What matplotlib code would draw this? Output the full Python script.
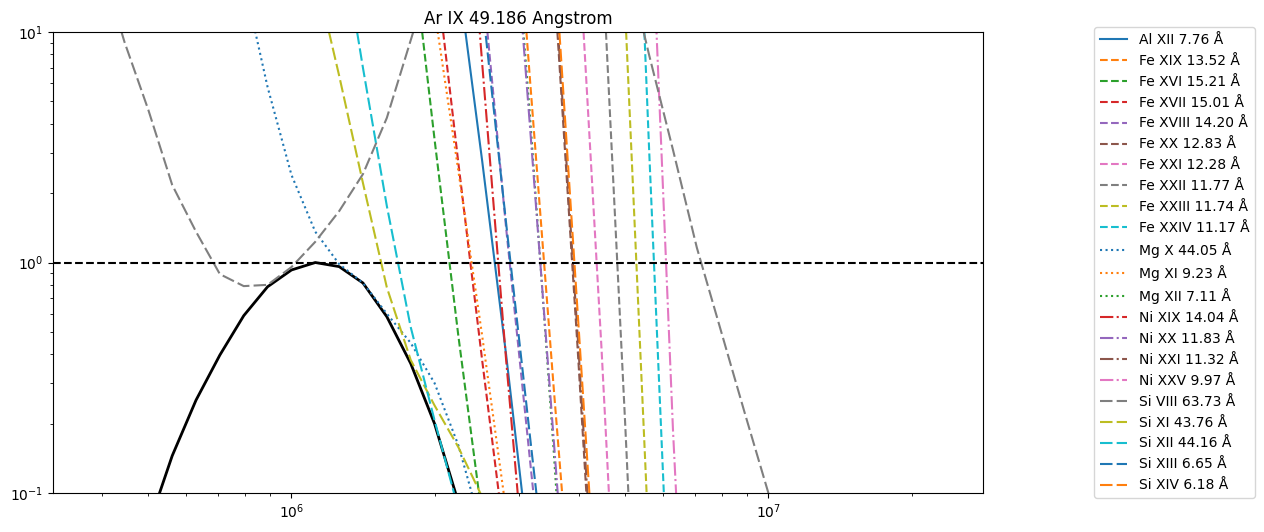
import numpy as np
import matplotlib.pyplot as plt

# --- values (log10 T, normalised ratio) ---
ar9_t = [5.65, 5.70, 5.75, 5.80, 5.85, 5.90, 5.95, 6.00, 6.05, 6.10, 6.15, 6.20, 6.25, 6.30, 6.35, 6.40]
ar9 = [0.03, 0.072, 0.145, 0.253, 0.397, 0.588, 0.785, 0.928, 1.0, 0.96, 0.815, 0.582, 0.365, 0.20, 0.091, 0.035]

al12_t = [6.35, 6.40, 6.45, 6.50]
al12 = [17.2, 2.75, 0.40, 0.051]

fe19_t = [6.45, 6.50, 6.55, 6.60]
fe19 = [151, 6.28, 0.284, 0.0145]
fe16_t = [6.25, 6.30, 6.35, 6.40]
fe16 = [27, 3.43, 0.48, 0.078]
fe17_t = [6.30, 6.35, 6.40, 6.45]
fe17 = [21, 2.7, 0.375, 0.056]
fe18_t = [6.40, 6.45, 6.50, 6.55]
fe18 = [17.2, 1.42, 0.14, 0.014]
fe20_t = [6.50, 6.55, 6.60, 6.65]
fe20 = [690, 17.6, 0.425, 0.0083]
fe21_t = [6.55, 6.60, 6.65, 6.70]
fe21 = [900, 28.5, 0.428, 0.0041]
fe22_t = [6.60, 6.65, 6.70, 6.75]
fe22 = [2800, 25, 0.195, 0.0011]
fe23_t = [6.65, 6.70, 6.75, 6.80]
fe23 = [2450, 12, 0.0564, 0.0005]
fe24_t = [6.70, 6.75, 6.80]
fe24 = [1120, 3.07, 0.0118]

mg10_t = [5.85, 5.90, 5.95, 6.00, 6.05, 6.10, 6.15, 6.20, 6.25, 6.30, 6.35, 6.40]
mg10 = [60, 16.8, 5.77, 2.4, 1.36, 0.985, 0.815, 0.60, 0.448, 0.30, 0.161, 0.069]
mg11_t = [6.25, 6.30, 6.35, 6.40, 6.45]
mg11 = [70, 12.4, 2.5, 0.479, 0.084]
mg12_t = [6.45, 6.50, 6.55, 6.60]
mg12 = [93, 4.36, 0.151, 0.0039]

ni19_t = [6.35, 6.40, 6.45, 6.50]
ni19 = [155, 7.28, 0.38, 0.0245]
ni20_t = [6.45, 6.50, 6.55, 6.60]
ni20 = [87, 3.92, 0.169, 0.0071]
ni21_t = [6.50, 6.55, 6.60, 6.65]
ni21 = [700, 19.4, 0.485, 0.0103]
ni25_t = [6.70, 6.75, 6.80, 6.85]
ni25 = [2000, 59, 0.187, 0.0015]

si8_t = [5.55, 5.60, 5.65, 5.70, 5.75, 5.80, 5.85, 5.90, 5.95, 6.00, 6.05, 6.10, 6.15, 6.20,
         6.25, 6.30, 6.40, 6.50, 6.60, 6.70, 6.75, 6.80, 6.85, 6.90, 6.95, 7.00, 7.05]
si8 = [45, 20, 9.05, 4.59, 2.17, 1.36, 0.89, 0.79, 0.80, 0.955, 1.23, 1.67, 2.42, 4.24,
       9.2, 20, 60, 120, 80, 21.6, 7.94, 3.08, 1.16, 0.51, 0.224, 0.1, 0.046]
si11_t = [6.05, 6.10, 6.15, 6.20, 6.25, 6.30, 6.35, 6.40, 6.45]
si11 = [18, 6.47, 2.21, 0.78, 0.378, 0.24, 0.158, 0.096, 0.05]
si12_t = [6.10, 6.15, 6.20, 6.25, 6.30, 6.35]
si12 = [30, 6.98, 1.76, 0.525, 0.207, 0.085]
si13_t = [6.40, 6.45, 6.50, 6.55]
si13 = [13.4, 1.49, 0.177, 0.0215]
si14_t = [6.50, 6.55, 6.60, 6.65]
si14 = [800, 23.7, 0.612, 0.0156]

longdash = (0, (6, 2))
series = [
    ("Al XII 7.76 Å", al12_t, al12, "C0", "-"),
    ("Fe XIX 13.52 Å", fe19_t, fe19, "C1", "--"),
    ("Fe XVI 15.21 Å", fe16_t, fe16, "C2", "--"),
    ("Fe XVII 15.01 Å", fe17_t, fe17, "C3", "--"),
    ("Fe XVIII 14.20 Å", fe18_t, fe18, "C4", "--"),
    ("Fe XX 12.83 Å", fe20_t, fe20, "C5", "--"),
    ("Fe XXI 12.28 Å", fe21_t, fe21, "C6", "--"),
    ("Fe XXII 11.77 Å", fe22_t, fe22, "C7", "--"),
    ("Fe XXIII 11.74 Å", fe23_t, fe23, "C8", "--"),
    ("Fe XXIV 11.17 Å", fe24_t, fe24, "C9", "--"),
    ("Mg X 44.05 Å", mg10_t, mg10, "C0", ":"),
    ("Mg XI 9.23 Å", mg11_t, mg11, "C1", ":"),
    ("Mg XII 7.11 Å", mg12_t, mg12, "C2", ":"),
    ("Ni XIX 14.04 Å", ni19_t, ni19, "C3", "-."),
    ("Ni XX 11.83 Å", ni20_t, ni20, "C4", "-."),
    ("Ni XXI 11.32 Å", ni21_t, ni21, "C5", "-."),
    ("Ni XXV 9.97 Å", ni25_t, ni25, "C6", "-."),
    ("Si VIII 63.73 Å", si8_t, si8, "C7", longdash),
    ("Si XI 43.76 Å", si11_t, si11, "C8", longdash),
    ("Si XII 44.16 Å", si12_t, si12, "C9", longdash),
    ("Si XIII 6.65 Å", si13_t, si13, "C0", longdash),
    ("Si XIV 6.18 Å", si14_t, si14, "C1", longdash),
]

fig, ax = plt.subplots(figsize=(12.64, 5.32), dpi=100)
fig.subplots_adjust(left=0.0419, right=0.7777, bottom=0.0733, top=0.9398)

ax.plot(10 ** np.array(ar9_t), ar9, color="black", lw=2)
for label, t, v, col, ls in series:
    ax.plot(10 ** np.array(t), v, color=col, linestyle=ls, lw=1.5, label=label)
ax.axhline(1.0, color="black", linestyle="--", lw=1.5)

ax.set_xscale("log")
ax.set_yscale("log")
ax.set_xlim(10 ** 5.5, 10 ** 7.45)
ax.set_ylim(0.1, 10)
ax.set_title("Ar IX 49.186 Angstrom")
ax.legend(loc="center left", bbox_to_anchor=(1.112, 0.5))

fig.savefig("out.png", dpi=100)
